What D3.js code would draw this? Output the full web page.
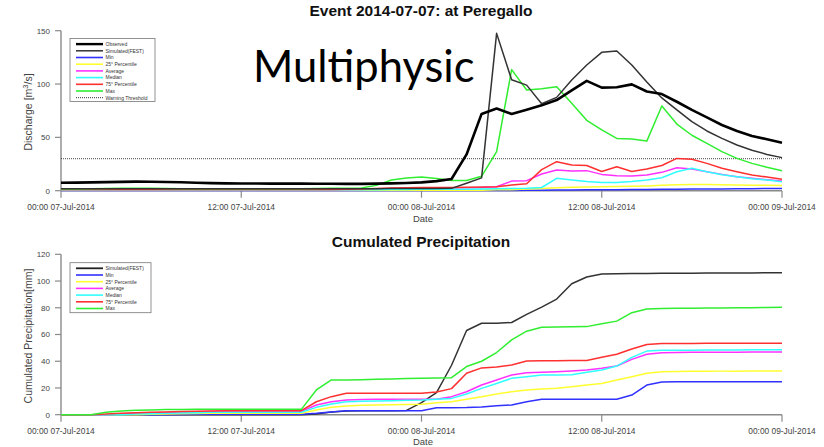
<!DOCTYPE html>
<html>
<head>
<meta charset="utf-8">
<script src="https://cdn.jsdelivr.net/npm/d3@7"></script>
<style>
  html, body { margin: 0; padding: 0; background: #fff; }
  svg { display: block; font-family: "Liberation Sans", Arial, sans-serif; }
</style>
</head>
<body>
<svg id="chart" width="824" height="447"></svg>
<script>
// Hours since 00:00 07-Jul-2014
const hours = [0,1,2,3,4,5,6,7,8,9,10,11,12,13,14,15,16,17,18,19,20,21,22,23,24,
               25,26,27,28,29,30,31,32,33,34,35,36,37,38,39,40,41,42,43,44,45,46,47,48];

const tickHours = [0, 12, 24, 36, 48];
const tickLabels = ["00:00 07-Jul-2014", "12:00 07-Jul-2014", "00:00 08-Jul-2014",
                    "12:00 08-Jul-2014", "00:00 09-Jul-2014"];

// Discharge [m3/s]
const qObserved = [7.5,7.6,7.8,8.0,8.3,8.5,8.4,8.2,7.9,7.5,7.1,6.9,6.8,6.7,6.6,6.6,6.6,6.5,6.5,6.4,6.4,6.6,6.9,7.2,7.8,
                   9.0,11,34,72,77,72,76,80,85,94,103,96.6,97,99.7,93,90.6,83.4,75.7,68.8,61.6,56,51.3,48.2,45];
const qSimulated = [1.8,1.8,1.8,1.9,1.9,1.9,1.9,1.9,1.8,1.8,1.8,1.8,1.8,1.8,1.8,1.8,1.8,1.8,1.8,1.8,1.9,1.9,2.0,2.0,2.0,
                    2.1,2.2,7,12,147.5,104,99,81.5,87.5,103.8,117.8,129.7,131,117.8,102,87,75.7,64.7,56,49,42.8,38,34,31];
const qMin = [0.3,0.3,0.3,0.3,0.3,0.3,0.3,0.3,0.3,0.3,0.3,0.3,0.3,0.3,0.3,0.3,0.3,0.3,0.3,0.3,0.3,0.3,0.3,0.3,0.3,
              0.3,0.3,0.3,0.3,0.3,0.3,0.4,0.5,0.6,0.7,0.8,0.9,1.0,1.1,1.2,1.3,1.4,1.5,1.6,1.7,1.8,1.9,2.0,2.0];
const qP25 = [0.5,0.5,0.5,0.5,0.5,0.5,0.5,0.5,0.5,0.5,0.5,0.5,0.5,0.5,0.5,0.5,0.5,0.5,0.5,0.5,0.5,0.5,0.5,0.5,0.5,
              0.5,0.5,0.5,0.5,0.8,1.0,1.5,2.0,2.8,3.2,3.5,3.8,4.0,4.2,4.5,5.0,5.5,5.8,5.8,5.6,5.4,5.2,5.0,4.8];
const qAverage = [1,1,1,1,1,1,1,1,1,1,1,1,1,1,1,1,1,1,1,1,1.2,1.5,2.0,2.2,2.5,
                  2.5,2.7,2.8,3.0,3.7,9,9.4,15.6,19.4,18.5,18.8,15.3,14.1,13.8,14.7,17.2,21.6,20.3,17.8,15.3,13.1,11.6,10.2,9];
const qMedian = [0.8,0.8,0.8,0.8,0.8,0.8,0.8,0.8,0.8,0.8,0.8,0.8,0.8,0.8,0.8,0.8,0.8,0.8,0.8,0.8,0.9,1.0,1.1,1.2,1.3,
                 1.3,1.4,1.4,1.5,1.8,2.0,2.2,3.0,11.6,10,8.6,7.8,7.8,8.6,10,12.2,17.8,21,17.8,15,13,11.2,10,8.5];
const qP75 = [1.2,1.2,1.2,1.2,1.2,1.2,1.2,1.2,1.2,1.2,1.2,1.2,1.2,1.2,1.2,1.2,1.2,1.2,1.2,1.3,1.5,2.0,2.5,2.8,3.0,
              3.0,3.0,3.2,3.5,3.7,5.3,6.5,19.8,27.2,24,23.6,18,22.5,18,20.3,23.6,30.3,29.4,25.6,21,17.8,14.7,12.8,10.7];
const qMax = [1.5,1.6,1.8,2.0,2.2,2.3,2.2,2.0,1.8,1.8,1.8,1.8,1.8,1.8,1.8,1.8,1.9,2.0,2.2,2.3,2.6,5,10,12,12.8,
              11.5,9.5,9.5,13.5,36.6,113.5,94.4,95.5,97.5,82,66,57,49,48.5,46.5,79.4,62.5,52,44.4,36.6,30.3,25.6,22,18.8];
const warningThreshold = 30;

// Cumulated precipitation [mm]
const pSimulated = [0,0,0,0,0,0,0,0,0,0,0,0,0,0,0,0,0,0.5,2,2.8,3,3,3,3.2,9,
                    16.5,37,63,68.4,68.5,69,75,80.5,86.5,98,103,105.2,105.5,105.6,105.7,105.8,105.8,105.9,106,106,106.1,106.1,106.2,106.2];
const pMin = [0,0,0,0,0,0,0,0,0.2,0.3,0.3,0.3,0.3,0.3,0.3,0.3,0.3,1,2,3,3,3,3,3,3,
              5.2,5.2,5.3,5.7,6.7,7.3,9.7,11.5,11.5,11.5,11.5,11.5,11.6,14.7,22.2,24.5,24.6,24.7,24.7,24.7,24.7,24.7,24.7,24.7];
const pP25 = [0,0,0,0,0,0,0.3,0.5,0.7,0.9,1,1,1,1,1,1,1,3.5,5.5,6.5,7,7.3,7.5,7.6,7.8,
              9,9.7,11.5,13.5,15.5,17.2,18.5,19.2,19.7,21,22.2,23.4,26,28.4,31,32.2,32.4,32.5,32.5,32.6,32.6,32.7,32.7,32.7];
const pAverage = [0,0,0,0,0.5,1,1.4,1.7,2,2.2,2.4,2.5,2.5,2.5,2.5,2.5,2.5,7.3,9.7,11,11.3,11.5,11.5,11.5,11.5,
                  11.6,13.5,17.2,22.2,26,29.7,31.4,31.8,32.2,32.7,33.4,34.7,36.4,41.4,45.2,46.4,46.6,46.7,46.7,46.8,46.8,46.9,46.9,46.9];
const pMedian = [0,0,0,0,0,0.5,0.8,1,1.3,1.5,1.8,1.8,1.8,1.8,1.8,1.8,1.8,5.5,8,9.7,10,10.2,10.5,10.8,11,
                 11.5,12.2,15.5,19.7,23.4,27.2,28.4,29.7,29.7,29.9,31.8,33.4,36.4,42.9,47.6,48.2,48.3,48.3,48.4,48.4,48.4,48.5,48.5,48.5];
const pP75 = [0,0,0,0.5,1,1.4,1.8,2.1,2.4,2.6,2.8,3,3,3,3,3,3,9.7,13.5,16,16,16,16,16,16,
              17,19.5,31,35,35.7,37.2,40.2,40.4,40.4,40.5,40.6,42.9,45.2,49.2,52.5,53.2,53.3,53.3,53.4,53.4,53.4,53.5,53.5,53.5];
const pMax = [0,0,0,1.8,2.8,3.3,3.6,3.8,3.9,4,4,4,4,4,4,4,4,18.5,26,26,26.2,26.5,26.8,27,27.2,
              27.5,27.7,36,40,46.5,56,62.5,65.4,65.6,65.8,65.9,68,70,76.3,79,79.4,79.6,79.7,79.8,79.9,80,80.1,80.2,80.3];

const ensembleNames = ["Min", "25° Percentile", "Average", "Median", "75° Percentile", "Max"];
const ensembleColors = ["#3030ff", "#ffff30", "#ff30ff", "#30ffff", "#ff3030", "#30ee30"];

const svg = d3.select("#chart");
const axisColor = "#8a8a8a";
const textColor = "#444";

const x = d3.scaleLinear().domain([0, 48]).range([61, 782]);

function drawPanel(opts) {
  const g = svg.append("g");
  const y = opts.y;

  // y axis (R style, detached line with left ticks)
  const yTicks = opts.yTicks;
  g.append("line")
    .attr("x1", 61).attr("x2", 61)
    .attr("y1", y(yTicks[yTicks.length - 1])).attr("y2", y(0))
    .attr("stroke", axisColor).attr("stroke-width", 1.4);
  yTicks.forEach(t => {
    g.append("line").attr("x1", 55).attr("x2", 61)
      .attr("y1", y(t)).attr("y2", y(t))
      .attr("stroke", axisColor).attr("stroke-width", 1.2);
    g.append("text").attr("x", 50).attr("y", y(t) + 2.8)
      .attr("text-anchor", "end").attr("font-size", 8).attr("fill", textColor)
      .text(t);
  });

  // x axis
  g.append("line")
    .attr("x1", x(0)).attr("x2", x(48))
    .attr("y1", y(0)).attr("y2", y(0))
    .attr("stroke", axisColor).attr("stroke-width", 1.4);
  tickHours.forEach((h, i) => {
    g.append("line").attr("x1", x(h)).attr("x2", x(h))
      .attr("y1", y(0)).attr("y2", y(0) + 7)
      .attr("stroke", axisColor).attr("stroke-width", 1.2);
    g.append("text").attr("x", x(h)).attr("y", y(0) + 19.2)
      .attr("text-anchor", "middle").attr("font-size", 8.4).attr("fill", textColor)
      .text(tickLabels[i]);
  });
  g.append("text").attr("x", 423).attr("y", Math.min(y(0) + 31.5, 445))
    .attr("text-anchor", "middle").attr("font-size", 9.5).attr("fill", textColor)
    .text("Date");

  // title
  g.append("text").attr("x", 421).attr("y", opts.titleY)
    .attr("text-anchor", "middle").attr("font-size", 15.5).attr("font-weight", "bold")
    .attr("fill", "#111").text(opts.title);

  // y label
  const yl = g.append("text")
    .attr("transform", `translate(32,${opts.yLabelMid}) rotate(-90)`)
    .attr("text-anchor", "middle").attr("font-size", 10.5).attr("fill", textColor);
  opts.yLabel(yl);

  const line = d3.line().x((d, i) => x(hours[i])).y(d => y(d));

  // threshold
  if (opts.threshold !== undefined) {
    g.append("line").attr("x1", x(0)).attr("x2", x(48))
      .attr("y1", y(opts.threshold)).attr("y2", y(opts.threshold))
      .attr("stroke", "#333").attr("stroke-width", 0.9)
      .attr("stroke-dasharray", "1,1");
  }

  // series
  opts.series.forEach(s => {
    g.append("path").datum(s.values)
      .attr("d", line).attr("fill", "none")
      .attr("stroke", s.color).attr("stroke-width", s.width)
      .attr("stroke-linejoin", "round");
  });

  // legend
  const L = opts.legend;
  const lg = g.append("g");
  lg.append("rect").attr("x", L.x).attr("y", L.y).attr("width", L.w).attr("height", L.h)
    .attr("fill", "#fff").attr("stroke", "#777").attr("stroke-width", 0.8);
  L.items.forEach((it, i) => {
    const yy = L.y + 5.6 + i * 6.7;
    lg.append("line").attr("x1", L.x + 6).attr("x2", L.x + 33)
      .attr("y1", yy).attr("y2", yy)
      .attr("stroke", it.color).attr("stroke-width", it.width)
      .attr("stroke-dasharray", it.dash || null);
    lg.append("text").attr("x", L.x + 35.5).attr("y", yy + 1.8)
      .attr("font-size", 5).attr("fill", "#333").text(it.name);
  });
}

// Discharge panel
const yQ = d3.scaleLinear().domain([0, 150]).range([190.7, 30.7]);
const qEnsemble = [qMin, qP25, qAverage, qMedian, qP75, qMax];
drawPanel({
  y: yQ,
  yTicks: [0, 50, 100, 150],
  title: "Event 2014-07-07: at Peregallo",
  titleY: 16,
  yLabelMid: 112,
  yLabel: t => {
    t.append("tspan").text("Discharge [m");
    t.append("tspan").attr("dy", -4).attr("font-size", 7.5).text("3");
    t.append("tspan").attr("dy", 4).text("/s]");
  },
  threshold: warningThreshold,
  series: [
    ...qEnsemble.map((v, i) => ({ values: v, color: ensembleColors[i], width: 1.5 })),
    { values: qSimulated, color: "#333", width: 1.5 },
    { values: qObserved, color: "#000", width: 2.6 }
  ],
  legend: {
    x: 70, y: 38.5, w: 85, h: 63,
    items: [
      { name: "Observed", color: "#000", width: 2.4 },
      { name: "Simulated(FEST)", color: "#333", width: 1.5 },
      ...ensembleNames.map((n, i) => ({ name: n, color: ensembleColors[i], width: 1.6 })),
      { name: "Warning Threshold", color: "#333", width: 1, dash: "1,1" }
    ]
  }
});

// Precipitation panel
const yP = d3.scaleLinear().domain([0, 120]).range([414.7, 254.3]);
const pEnsemble = [pMin, pP25, pAverage, pMedian, pP75, pMax];
drawPanel({
  y: yP,
  yTicks: [0, 20, 40, 60, 80, 100, 120],
  title: "Cumulated Precipitation",
  titleY: 247,
  yLabelMid: 336,
  yLabel: t => t.text("Cumulated Precipitation[mm]"),
  series: [
    { values: pSimulated, color: "#333", width: 1.5 },
    ...pEnsemble.map((v, i) => ({ values: v, color: ensembleColors[i], width: 1.5 }))
  ],
  legend: {
    x: 70, y: 262.7, w: 81, h: 50,
    items: [
      { name: "Simulated(FEST)", color: "#222", width: 1.8 },
      ...ensembleNames.map((n, i) => ({ name: n, color: ensembleColors[i], width: 1.6 }))
    ]
  }
});

// Overlay caption
svg.append("text").attr("x", 253).attr("y", 82)
  .attr("font-family", "Lato, 'Open Sans', sans-serif")
  .attr("font-size", 43.5).attr("fill", "#000")
  .text("Multiphysic");
</script>
</body>
</html>
